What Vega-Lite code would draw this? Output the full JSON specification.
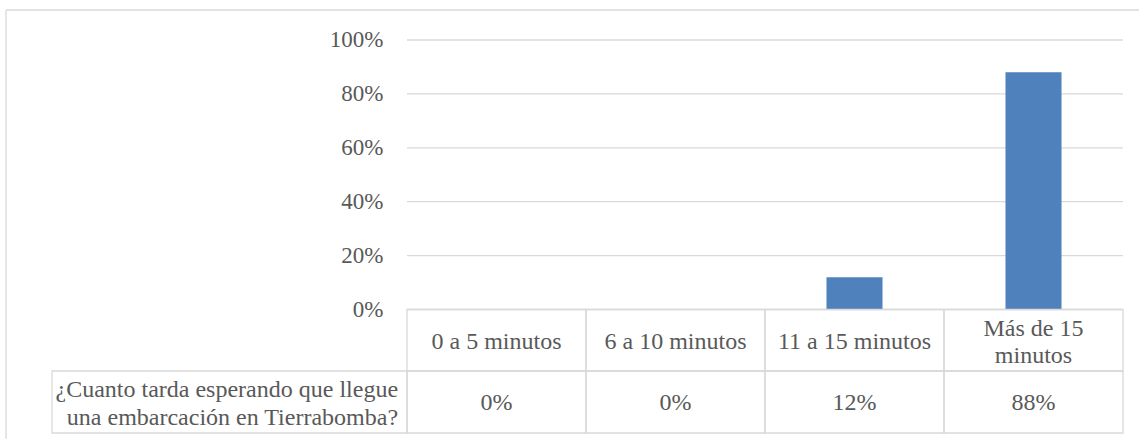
{
  "$schema": "https://vega.github.io/schema/vega-lite/v6.json",
  "width": 1139,
  "height": 439,
  "autosize": "none",
  "padding": 0,
  "background": "white",
  "config": {
    "view": {"stroke": null},
    "axis": {"grid": false, "domain": false, "ticks": false},
    "text": {"font": "Liberation Serif", "fontSize": 24, "color": "#595959"}
  },
  "datasets": {
    "respuestas": [
      {"categoria": "0 a 5 minutos", "rotulo": "0 a 5 minutos", "pct": 0},
      {"categoria": "6 a 10 minutos", "rotulo": "6 a 10 minutos", "pct": 0},
      {"categoria": "11 a 15 minutos", "rotulo": "11 a 15 minutos", "pct": 0.12},
      {"categoria": "Más de 15 minutos", "rotulo": "Más de 15\nminutos", "pct": 0.88}
    ],
    "marcas": [
      {"v": 0}, {"v": 0.2}, {"v": 0.4}, {"v": 0.6}, {"v": 0.8}, {"v": 1}
    ],
    "pregunta": [
      {"texto": "¿Cuanto tarda esperando que llegue\nuna embarcación en Tierrabomba?"}
    ],
    "marco": [{}]
  },
  "resolve": {"scale": {"x": "independent"}},
  "layer": [
    {
      "description": "chart frame, left edge",
      "data": {"name": "marco"},
      "mark": {"type": "rule", "color": "#d9d9d9", "strokeWidth": 1.3},
      "encoding": {
        "x": {"datum": -2.24, "type": "quantitative", "scale": {"domain": [-2.2737, 4.0894], "nice": false, "zero": false}, "axis": null},
        "y": {"datum": 1.1113, "type": "quantitative", "scale": {"domain": [-0.4805, 1.1484], "nice": false, "zero": false}},
        "y2": {"datum": -0.4805}
      }
    },
    {
      "description": "chart frame, top edge",
      "data": {"name": "marco"},
      "mark": {"type": "rule", "color": "#d9d9d9", "strokeWidth": 1.3},
      "encoding": {
        "x": {"datum": -2.24, "type": "quantitative", "scale": {"domain": [-2.2737, 4.0894], "nice": false, "zero": false}, "axis": null},
        "x2": {"datum": 4.0894},
        "y": {"datum": 1.1113, "type": "quantitative"}
      }
    },
    {
      "description": "horizontal gridlines",
      "data": {"name": "marcas"},
      "mark": {"type": "rule", "color": "#d9d9d9", "strokeWidth": 1.3},
      "encoding": {
        "x": {"datum": 0, "type": "quantitative", "scale": {"domain": [-2.2737, 4.0894], "nice": false, "zero": false}, "axis": null},
        "x2": {"datum": 4},
        "y": {
          "field": "v",
          "type": "quantitative",
          "axis": {
            "values": [0, 0.2, 0.4, 0.6, 0.8, 1],
            "format": ".0%",
            "title": null,
            "offset": -407,
            "labelPadding": 24,
            "labelFont": "Liberation Serif",
            "labelFontSize": 23,
            "labelColor": "#595959"
          }
        }
      }
    },
    {
      "description": "bars",
      "data": {"name": "respuestas"},
      "mark": {"type": "bar", "color": "#4F81BD", "width": {"band": 0.313}},
      "encoding": {
        "x": {
          "field": "categoria",
          "type": "nominal",
          "sort": null,
          "scale": {"type": "band", "domain": ["0 a 5 minutos", "6 a 10 minutos", "11 a 15 minutos", "Más de 15 minutos"], "paddingInner": 0, "paddingOuter": 0, "range": [407, 1123]},
          "axis": null
        },
        "y": {"field": "pct", "type": "quantitative"},
        "y2": {"datum": 0}
      }
    },
    {
      "description": "table header cells",
      "data": {"name": "respuestas"},
      "mark": {"type": "rect", "filled": false, "stroke": "#d9d9d9", "strokeWidth": 1.3},
      "encoding": {
        "x": {"field": "categoria", "type": "nominal", "sort": null, "scale": {"type": "band", "domain": ["0 a 5 minutos", "6 a 10 minutos", "11 a 15 minutos", "Más de 15 minutos"], "paddingInner": 0, "paddingOuter": 0, "range": [407, 1123]}, "axis": null},
        "y": {"datum": 0, "type": "quantitative"},
        "y2": {"datum": -0.2282}
      }
    },
    {
      "description": "table value cells",
      "data": {"name": "respuestas"},
      "mark": {"type": "rect", "filled": false, "stroke": "#d9d9d9", "strokeWidth": 1.3},
      "encoding": {
        "x": {"field": "categoria", "type": "nominal", "sort": null, "scale": {"type": "band", "domain": ["0 a 5 minutos", "6 a 10 minutos", "11 a 15 minutos", "Más de 15 minutos"], "paddingInner": 0, "paddingOuter": 0, "range": [407, 1123]}, "axis": null},
        "y": {"datum": -0.2282, "type": "quantitative"},
        "y2": {"datum": -0.4583}
      }
    },
    {
      "description": "row label cell",
      "data": {"name": "pregunta"},
      "mark": {"type": "rect", "filled": false, "stroke": "#d9d9d9", "strokeWidth": 1.3},
      "encoding": {
        "x": {"datum": -1.983, "type": "quantitative", "scale": {"domain": [-2.2737, 4.0894], "nice": false, "zero": false}, "axis": null},
        "x2": {"datum": 0},
        "y": {"datum": -0.2282, "type": "quantitative"},
        "y2": {"datum": -0.4583}
      }
    },
    {
      "description": "row label text, two lines, first line anchored",
      "data": {"name": "pregunta"},
      "mark": {"type": "text", "align": "right", "baseline": "middle", "lineBreak": "\n", "lineHeight": 28},
      "encoding": {
        "x": {"datum": -0.05, "type": "quantitative", "scale": {"domain": [-2.2737, 4.0894], "nice": false, "zero": false}, "axis": null},
        "y": {"datum": -0.2987, "type": "quantitative"},
        "text": {"field": "texto"}
      }
    },
    {
      "description": "single-line category names in the header row",
      "data": {"name": "respuestas"},
      "transform": [{"filter": "indexof(datum.rotulo, '\\n') < 0"}],
      "mark": {"type": "text", "align": "center", "baseline": "middle"},
      "encoding": {
        "x": {"field": "categoria", "type": "nominal", "sort": null, "scale": {"type": "band", "domain": ["0 a 5 minutos", "6 a 10 minutos", "11 a 15 minutos", "Más de 15 minutos"], "paddingInner": 0, "paddingOuter": 0, "range": [407, 1123]}, "axis": null, "bandPosition": 0.5},
        "y": {"datum": -0.1192, "type": "quantitative"},
        "text": {"field": "rotulo"}
      }
    },
    {
      "description": "wrapped category names in the header row",
      "data": {"name": "respuestas"},
      "transform": [{"filter": "indexof(datum.rotulo, '\\n') >= 0"}],
      "mark": {"type": "text", "align": "center", "baseline": "middle", "lineBreak": "\n", "lineHeight": 27},
      "encoding": {
        "x": {"field": "categoria", "type": "nominal", "sort": null, "scale": {"type": "band", "domain": ["0 a 5 minutos", "6 a 10 minutos", "11 a 15 minutos", "Más de 15 minutos"], "paddingInner": 0, "paddingOuter": 0, "range": [407, 1123]}, "axis": null, "bandPosition": 0.5},
        "y": {"datum": -0.0705, "type": "quantitative"},
        "text": {"field": "rotulo"}
      }
    },
    {
      "description": "percentages in the value row",
      "data": {"name": "respuestas"},
      "mark": {"type": "text", "align": "center", "baseline": "middle"},
      "encoding": {
        "x": {"field": "categoria", "type": "nominal", "sort": null, "scale": {"type": "band", "domain": ["0 a 5 minutos", "6 a 10 minutos", "11 a 15 minutos", "Más de 15 minutos"], "paddingInner": 0, "paddingOuter": 0, "range": [407, 1123]}, "axis": null, "bandPosition": 0.5},
        "y": {"datum": -0.3469, "type": "quantitative"},
        "text": {"field": "pct", "type": "quantitative", "format": ".0%"}
      }
    }
  ]
}
